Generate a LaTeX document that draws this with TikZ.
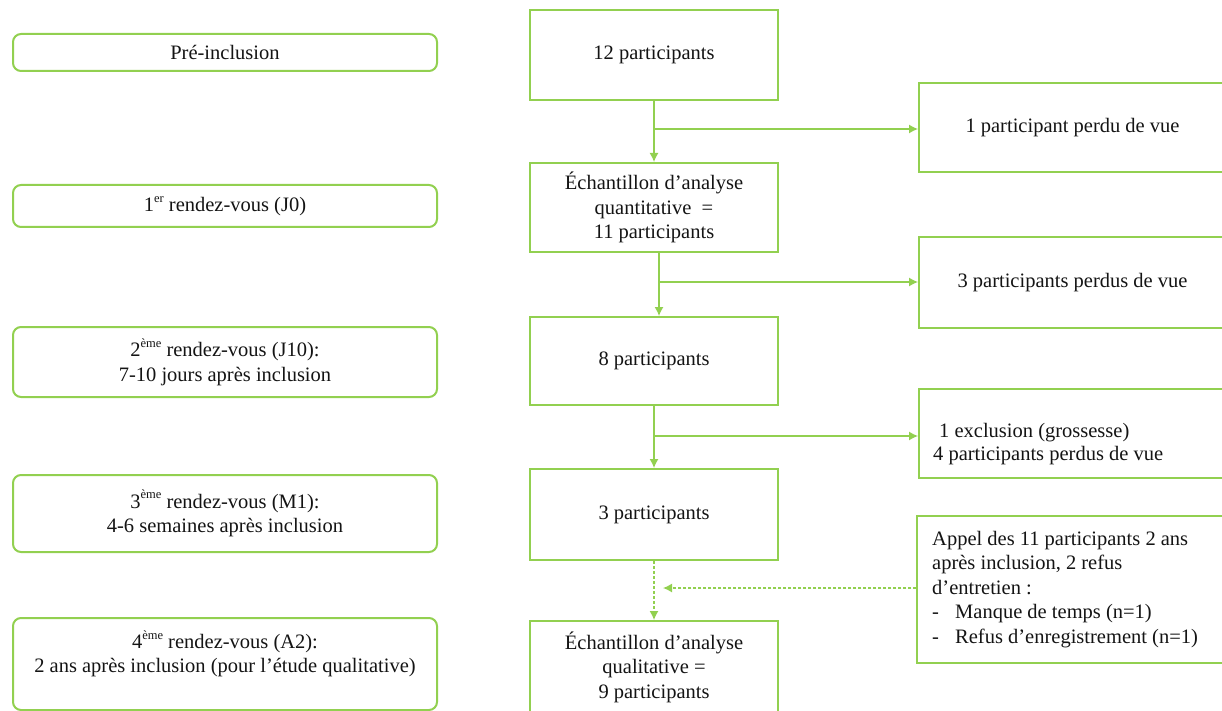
\documentclass[tikz,border=0pt]{standalone}
\usepackage{fontspec}
\setmainfont{Liberation Serif}
\usetikzlibrary{arrows.meta}
\definecolor{gr}{HTML}{92D050}
\newcommand\sups[1]{\raisebox{0.45em}{\fontsize{12.5}{12.5}\selectfont #1}}
\begin{document}
\begin{tikzpicture}[x=1pt,y=-1pt,
  every node/.style={font=\fontsize{20.5}{24.5}\selectfont, text=black!92},
  lbox/.style={draw=gr, line width=2pt, rounded corners=8pt, minimum width=424pt, inner sep=0pt, align=center},
  cbox/.style={draw=gr, line width=2pt, minimum width=248pt, inner sep=0pt, align=center},
  rbox/.style={draw=gr, line width=2pt, inner sep=0pt},
  txt/.style={anchor=west, align=left, inner sep=0pt},
  conn/.style={draw=gr, line width=1.3pt},
  arr/.style={conn, -{Latex[length=9pt,width=9pt]}},
  dsh/.style={dash pattern=on 3pt off 2pt},
]
\useasboundingbox[fill=white] (0,0) rectangle (1222,711);

% left column
\node[lbox, minimum height=37pt] (pre) at (225,52.5) {Pré-inclusion};
\node[lbox, minimum height=42pt] (j0) at (225,206) {1\sups{er} rendez-vous (J0)};
\node[lbox, minimum height=70pt] (j10) at (225,362) {2\sups{ème} rendez-vous (J10):\\7-10 jours après inclusion};
\node[lbox, minimum height=77pt] (m1) at (225,513.5) {3\sups{ème} rendez-vous (M1):\\4-6 semaines après inclusion};
\node[lbox, minimum height=92pt] (a2) at (225,664) {4\sups{ème} rendez-vous (A2):\\2 ans après inclusion (pour l’étude qualitative)\\\mbox{}};

% centre column
\node[cbox, minimum height=90pt] (c1) at (654,55) {12 participants};
\node[cbox, minimum height=89pt] (c2) at (654,207.5) {Échantillon d’analyse\\quantitative~ =\\11 participants};
\node[cbox, minimum height=88pt] (c3) at (654,361) {8 participants};
\node[cbox, minimum height=91pt] (c4) at (654,514.5) {3 participants};
\node[cbox, minimum height=92pt] (c5) at (654,667) {Échantillon d’analyse\\qualitative =\\9 participants};

% right column
\node[rbox, minimum width=307pt, minimum height=89pt] (r1) at (1072.5,127.5) {1 participant perdu de vue};
\node[rbox, minimum width=307pt, minimum height=91pt] (r2) at (1072.5,282.5) {3 participants perdus de vue};
\node[rbox, minimum width=307pt, minimum height=89pt] (r3) at (1072.5,433.5) {};
\node[txt, font=\fontsize{20.5}{22.5}\selectfont] (r3t) at (933,444) {\hspace*{6pt}1 exclusion (grossesse)\\4 participants perdus de vue};
\node[rbox, minimum width=309pt, minimum height=147pt] (r4) at (1071.5,589.5) {};
\node[txt] (r4t) at (932,589.5) {Appel des 11 participants 2 ans\\après inclusion, 2 refus\\d’entretien :\\\makebox[23pt][l]{-}Manque de temps (n=1)\\\makebox[23pt][l]{-}Refus d’enregistrement (n=1)};

% connectors
\draw[arr] (c1.south) -- (c2.north);
\coordinate (b1) at (654,129);
\draw[arr] (b1) -- (b1 -| r1.west);
\draw[arr] ([xshift=5pt]c2.south) -- ([xshift=5pt]c3.north);
\coordinate (b2) at (659,282);
\draw[arr] (b2) -- (b2 -| r2.west);
\draw[arr] (c3.south) -- (c4.north);
\coordinate (b3) at (654,436);
\draw[arr] (b3) -- (b3 -| r3.west);
\draw[arr, dsh] (c4.south) -- (c5.north);
\coordinate (d1) at (663,588);
\draw[arr, dsh] (r4.west |- d1) -- (d1);
\end{tikzpicture}
\end{document}
